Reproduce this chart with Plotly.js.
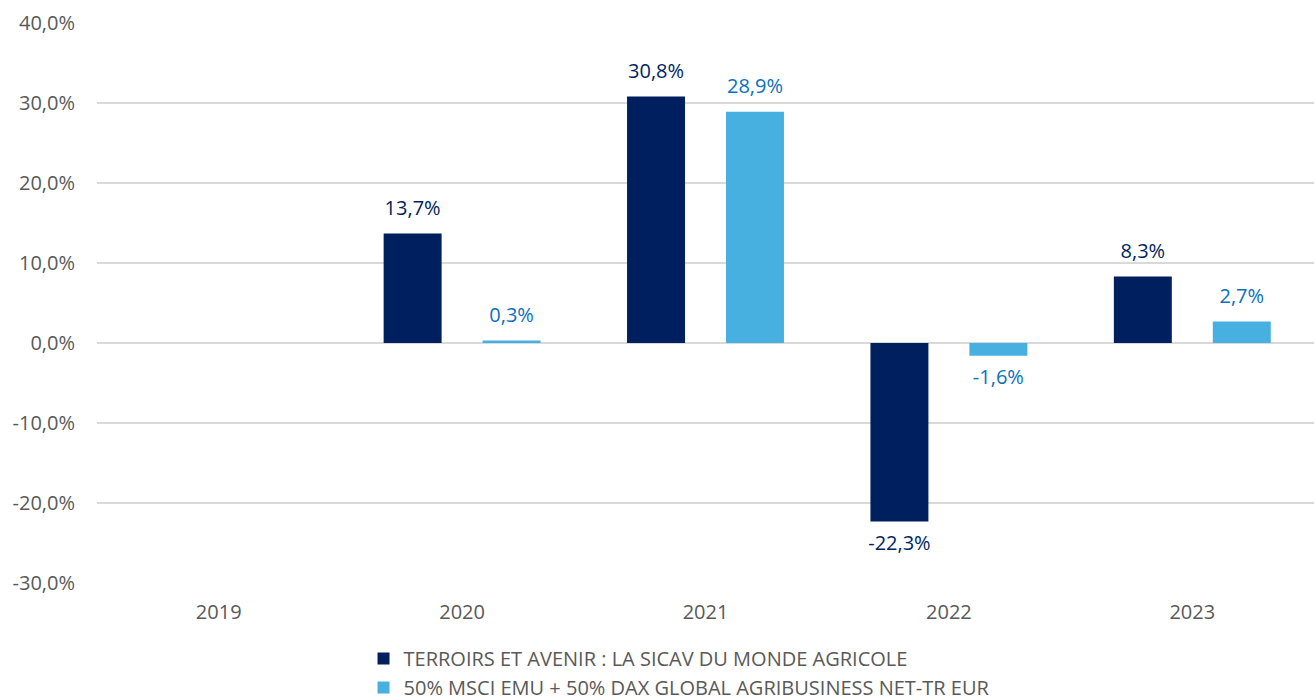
<!DOCTYPE html>
<html>
<head>
<meta charset="utf-8">
<script src="https://cdn.plot.ly/plotly-3.0.1.min.js"></script>
<style>html,body{margin:0;padding:0;background:#fff;}#chart{width:1316px;height:700px;}</style>
</head>
<body>
<div id="chart"></div>
<script>
const years = ["2019", "2020", "2021", "2022", "2023"];
const fundName = "TERROIRS ET AVENIR : LA SICAV DU MONDE AGRICOLE";
const benchName = "50% MSCI EMU + 50% DAX GLOBAL AGRIBUSINESS NET-TR EUR";
const fundValues = [null, 13.7, 30.8, -22.3, 8.3];
const benchValues = [null, 0.3, 28.9, -1.6, 2.7];
const yTickVals = [-30, -20, -10, 0, 10, 20, 30, 40];
const yTickText = ["-30,0%", "-20,0%", "-10,0%", "0,0%", "10,0%", "20,0%", "30,0%", "40,0%"];

const FONT = "Open Sans, Noto Sans, sans-serif";
const DARK = "#001F5F", LIGHT = "#48B0E0", LIGHT_TXT = "#0A70C0";

function fmt(v) { return v == null ? "" : v.toFixed(1).replace(".", ",") + "%"; }
function pos(v) { return v != null && v < 0 ? "bottom center" : "top center"; }

function labelTrace(vals, color) {
  return {
    type: "scatter", mode: "markers+text", x: years, y: vals,
    text: vals.map(fmt), textposition: vals.map(pos),
    textfont: {color: color, size: 20, family: FONT},
    marker: {size: 20, color: "rgba(0,0,0,0)"},
    showlegend: false, cliponaxis: false, hoverinfo: "skip"
  };
}

const traces = [
  {type: "bar", name: fundName, x: years, y: fundValues, marker: {color: DARK}, hoverinfo: "skip"},
  {type: "bar", name: benchName, x: years, y: benchValues, marker: {color: LIGHT}, hoverinfo: "skip"},
  labelTrace(fundValues, DARK),
  labelTrace(benchValues, LIGHT_TXT)
];

const layout = {
  width: 1316, height: 700,
  margin: {l: 97, r: 2, t: 23, b: 117, autoexpand: false},
  paper_bgcolor: "#fff", plot_bgcolor: "#fff",
  font: {family: FONT, color: "#595959", size: 20},
  barmode: "group", bargap: 0.187, bargroupgap: 0.414,
  scattermode: "group", scattergap: 0.187,
  xaxis: {
    type: "category", showgrid: false, zeroline: false, showline: false,
    ticks: "outside", ticklen: 11, tickcolor: "rgba(0,0,0,0)",
    tickfont: {size: 20, color: "#595959"}
  },
  yaxis: {
    range: [-30, 40], tickvals: yTickVals, ticktext: yTickText,
    showgrid: true, gridcolor: "#D9D9D9", gridwidth: 1.5,
    zeroline: false, showline: false,
    ticks: "outside", ticklen: 17, tickcolor: "rgba(0,0,0,0)",
    tickfont: {size: 20, color: "#595959"}
  },
  showlegend: true,
  legend: {
    orientation: "v", x: 0.219, xanchor: "left", y: -0.1, yanchor: "top",
    font: {size: 20, color: "#595959"}, itemwidth: 20, tracegroupgap: 0,
    bgcolor: "rgba(0,0,0,0)"
  }
};

Plotly.newPlot("chart", traces, layout, {displayModeBar: false, staticPlot: true});
</script>
</body>
</html>
